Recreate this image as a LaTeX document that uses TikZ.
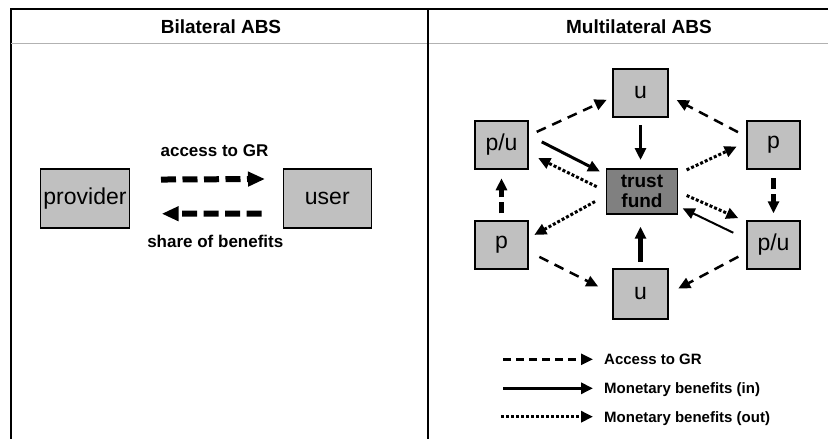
\documentclass[tikz,border=0pt]{standalone}
\usepackage{fontspec}
\setmainfont{Liberation Sans}
\usetikzlibrary{arrows.meta}
\definecolor{boxgray}{HTML}{C0C0C0}
\definecolor{fundgray}{HTML}{808080}
\begin{document}
\begin{tikzpicture}[x=1pt,y=-1pt,line join=miter,
		box/.style={draw,line width=1.5pt,fill=boxgray,inner sep=0pt,outer sep=0pt,font=\fontsize{23}{26}\selectfont},
		sbox/.style={box,minimum width=53pt,minimum height=48pt},
		fund/.style={box,fill=fundgray,minimum width=71pt,minimum height=45pt,align=center,font=\bfseries\fontsize{19}{20}\selectfont},
		hdr/.style={anchor=base,inner sep=0pt,font=\bfseries\fontsize{19}{22}\selectfont},
		lbl/.style={anchor=base,inner sep=0pt,font=\bfseries\fontsize{17}{20}\selectfont},
		leg/.style={anchor=west,inner sep=0pt,text height=10.7pt,text depth=0pt,font=\bfseries\fontsize{15}{18}\selectfont},
		tip/.style={-{Triangle[length=12pt,width=11pt]}},
		bil/.style={-{Triangle[length=17pt,width=14pt]},line width=6pt,dash pattern=on 15pt off 6.5pt},
		acc/.style={tip,line width=2.5pt,dash pattern=on 10pt off 7pt},
		accb/.style={tip,line width=4.5pt,dash pattern=on 11pt off 5pt},
		min/.style={tip,line width=3pt},
		mout/.style={tip,line width=3pt,dash pattern=on 3pt off 2pt}]
	\useasboundingbox (0,0) rectangle (828,439);
	% frame
	\draw[line width=1.5pt] (11,439) -- (11,9) -- (828,9);
	\draw[gray!60,line width=1pt] (11,43.3) -- (828,43.3);
	\draw[line width=2.5pt] (428,9) -- (428,439);
	\node[hdr] (bil) at (221,33) {Bilateral ABS};
	\node[hdr] (mul) at (639,33) {Multilateral ABS};
	% bilateral
	\node[box,minimum width=88.6pt,minimum height=59pt] (prov) at (85,198.5) {provider};
	\node[box,minimum width=88pt,minimum height=59pt] (user) at (327.3,198.5) {user};
	\draw[bil,shorten <=31.7pt,shorten >=18.3pt] (prov.23) -- (user.156);
	\draw[bil,shorten <=21.6pt,shorten >=32.4pt] (user.199) -- (prov.341);
	\node[lbl] (acc) at (214.5,156.7) {access to GR};
	\node[lbl] (shr) at (215.3,247.7) {share of benefits};
	% multilateral
	\def\xl{501.5}
	\def\xm{640.5}
	\def\xr{773.5}
	\node[box,minimum width=55pt,minimum height=48pt] (U) at (\xm,93) {u};
	\node[sbox] (PU) at (\xl,145) {p/u};
	\node[sbox] (P) at (\xr,145) {p};
	\node[fund] (T) at (642,191.5) {trust\\fund};
	\node[sbox] (P1) at (\xl,245) {p};
	\node[sbox] (PU1) at (\xr,245) {p/u};
	\node[box,minimum width=55pt,minimum height=50pt] (U1) at (\xm,294) {u};
	\foreach \x/\y/\a/\b in
	{
		PU.19/U.188/9.6/6.9,
		P.163/U.355/10.2/9.8,
		P1.347/U1.180/12.7/16.5,
		PU1.195/U1.0/9.8/11.6
	}
	{
		\draw[acc,shorten <=\a pt,shorten >=\b pt] (\x)--(\y);
	}
	\draw[accb,shorten <=9.3pt,shorten >=7.7pt] (P.south) -- (PU1.north);
	\draw[accb,shorten <=7.7pt,shorten >=9.3pt] (P1.north) -- (PU.south);
	\draw[min,shorten <=15.4pt,shorten >=7.3pt] (PU.21) -- (T.155);
	\draw[min,line width=2pt,shorten <=15.2pt,shorten >=5.8pt] (PU1.168) -- (T.338);
	\draw[min,line width=3.5pt,shorten <=8pt,shorten >=9pt] (U.south) -- (U.south |- T.north);
	\draw[min,line width=4.5pt,shorten <=7.3pt,shorten >=12.7pt] (U1.north) -- (U1.north |- T.south);
	\foreach \x/\y/\a/\b in
	{
		T.180/PU.343/10.9/11.4,
		T.26/P.173/10.1/11.4,
		T.0/PU1.139/10/9.5,
		T.186/P1.14/13.1/7.2
	}
	{
		\draw[mout,shorten <=\a pt,shorten >=\b pt] (\x)--(\y);
	}
	% legend
	\coordinate (la) at (503,359.3);
	\coordinate (lb) at (503,388.3);
	\coordinate (lc) at (501,416.7);
	\node[leg] (ta) at (604,359.3) {Access to GR};
	\node[leg] (tb) at (604,388.3) {Monetary benefits (in)};
	\node[leg] (tc) at (604,416.7) {Monetary benefits (out)};
	\draw[acc,dash pattern=on 8pt off 5pt,shorten >=11pt] (la) -- (ta);
	\draw[min,shorten >=11pt] (lb) -- (tb);
	\draw[mout,shorten >=11pt] (lc) -- (tc);
\end{tikzpicture}
\end{document}
